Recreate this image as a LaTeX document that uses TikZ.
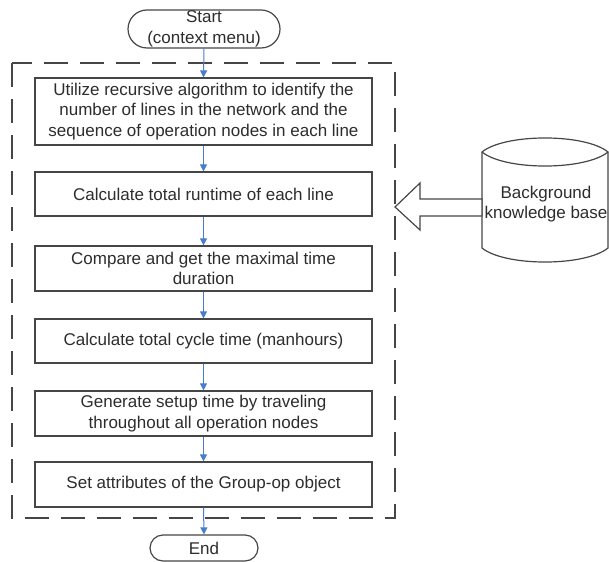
\documentclass[tikz,border=0pt]{standalone}
\usepackage{fontspec}
\setmainfont{Liberation Sans}
\usetikzlibrary{arrows.meta,shapes.misc}
\definecolor{edge}{RGB}{70,70,70}
\definecolor{txt}{RGB}{45,45,45}
\definecolor{flow}{RGB}{72,125,205}
\begin{document}
\begin{tikzpicture}[x=1pt,y=-1pt,
  every node/.style={font=\fontsize{17}{20.5}\selectfont,text=txt,inner sep=0pt},
  procbox/.style={draw=edge,line width=1.2pt,fill=white,minimum width=337pt,align=center},
  term/.style={draw=edge,line width=1.2pt,fill=white,rounded rectangle,align=center},
  flowarrow/.style={draw=flow,line width=1pt,-{Triangle[width=7pt,length=7pt]}},
  group/.style={draw=edge,line width=1.4pt,dash pattern=on 24pt off 12pt},
  outline/.style={draw=edge,line width=1.2pt,fill=white}]
\useasboundingbox (0,0) rectangle (609,561);
% dashed group
\draw[group] (12,63) rectangle (395,518);
% terminals
\node[term,minimum width=152pt,minimum height=38pt] (start) at (204,29) {Start\\(context menu)};
\node[term,minimum width=108pt,minimum height=26pt] (end) at (204,548) {End};
% process boxes
\node[procbox,minimum height=67pt] (b1) at (203.5,111.5) {Utilize recursive algorithm to identify the\\number of lines in the network and the\\sequence of operation nodes in each line};
\node[procbox,minimum height=44pt] (b2) at (203.5,194) {Calculate total runtime of each line};
\node[procbox,minimum height=45pt] (b3) at (203.5,268.5) {Compare and get the maximal time\\duration};
\node[procbox,minimum height=44pt] (b4) at (203.5,341) {Calculate total cycle time (manhours)};
\node[procbox,minimum height=45pt] (b5) at (203.5,413.5) {Generate setup time by traveling\\throughout all operation nodes};
\node[procbox,minimum height=45pt] (b6) at (203.5,484.5) {Set attributes of the Group-op object};
% flow arrows
\draw[flowarrow] (start.south) -- (b1.north);
\draw[flowarrow] (b1.south) -- (b2.north);
\draw[flowarrow] (b2.south) -- (b3.north);
\draw[flowarrow] (b3.south) -- (b4.north);
\draw[flowarrow] (b4.south) -- (b5.north);
\draw[flowarrow] (b5.south) -- (b6.north);
\draw[flowarrow] (b6.south) -- (end.north);
% cylinder (knowledge base)
\draw[outline] (482,152) .. controls (505,133.3) and (585,133.3) .. (608,152)
  -- (608,248) .. controls (585,266.7) and (505,266.7) .. (482,248) -- cycle;
\draw[edge,line width=1.2pt] (482,152) .. controls (505,170.7) and (585,170.7) .. (608,152);
\node (kb) at (546,204) [align=center] {Background\\knowledge base};
% block arrow
\draw[outline] (395,207) -- (420,183) -- (420,199) -- (482,199) -- (482,216)
  -- (420,216) -- (420,230) -- cycle;
\end{tikzpicture}
\end{document}
